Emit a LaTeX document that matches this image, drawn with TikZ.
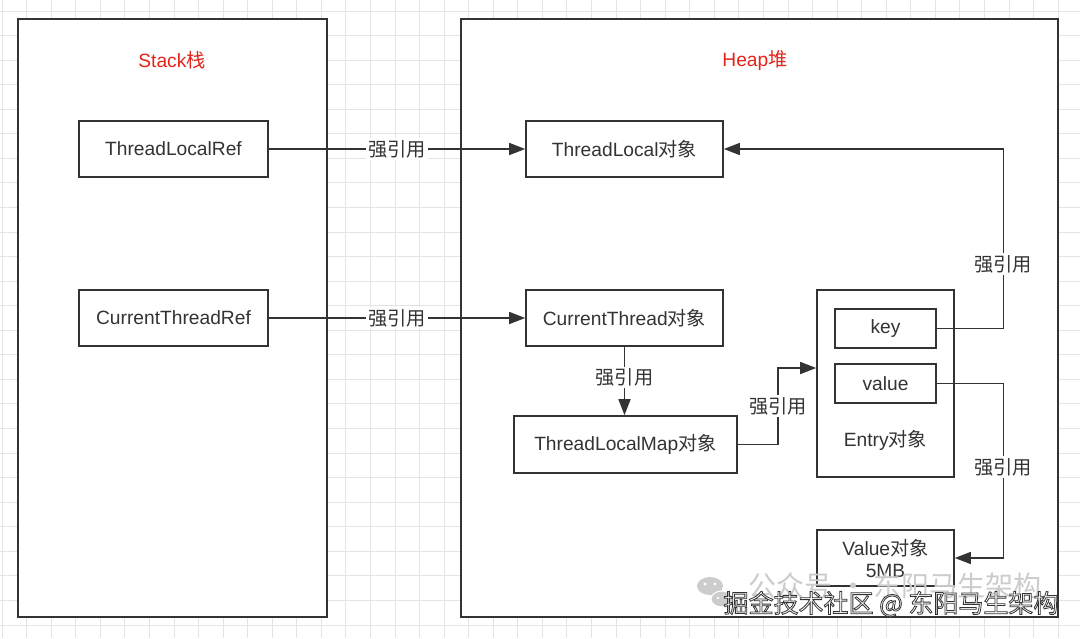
\documentclass[tikz,border=0pt]{standalone}
\usepackage{fontspec}
\setmainfont{Liberation Sans}
\newfontfamily\cjk{Noto Sans CJK SC}
\usetikzlibrary{arrows.meta,calc}
\definecolor{linec}{HTML}{333333}
\definecolor{textc}{HTML}{333333}
\definecolor{gridc}{HTML}{E4E4E4}
\definecolor{titlec}{HTML}{E3241B}
\newcommand\myzh[1]{{\cjk #1}}
\begin{document}
\begin{tikzpicture}[x=1pt,y=-1pt,
  box/.style={draw=linec, line width=1.6pt, fill=white, inner sep=0pt, text=textc, font=\fontsize{19.2}{23}\selectfont},
  conn/.style={draw=linec, line width=1.5pt, -{Triangle[length=16pt,width=12pt]}},
  lbl/.style={fill=white, inner sep=2pt, text=textc, font=\fontsize{19.2}{23}\selectfont},
  titletext/.style={text=titlec, font=\fontsize{19.2}{23}\selectfont},
  plain/.style={inner sep=0pt, text=textc, font=\fontsize{19.2}{23}\selectfont},
  wmark/.style={inner sep=0pt, font=\cjk\fontsize{25}{28}\selectfont},
]
\useasboundingbox (0,0) rectangle (1080,638);
\fill[white] (0,0) rectangle (1080,638);
\foreach \i in {0,...,43} \draw[gridc, line width=1pt] ({2.1+24.56*\i},0) -- ({2.1+24.56*\i},638);
\foreach \j in {0,...,25} \draw[gridc, line width=1pt] (0,{11+24.56*\j}) -- (1080,{11+24.56*\j});

% containers
\node[box, minimum width=309pt, minimum height=598pt] (stack) at (172.5,318) {};
\node[box, minimum width=597pt, minimum height=598pt] (heap) at (759.5,318) {};
\node[titletext] (stackt) at (172,60) {Stack\myzh{栈}};
\node[titletext] (heapt) at (755,60) {Heap\myzh{堆}};

% stack nodes
\node[box, minimum width=189pt, minimum height=56pt] (tlr) at (173.5,149) {ThreadLocalRef};
\node[box, minimum width=189pt, minimum height=56pt] (ctr) at (173.5,318) {CurrentThreadRef};

% heap nodes
\node[box, minimum width=197pt, minimum height=56pt] (tlo) at (624.5,149) {ThreadLocal\myzh{对象}};
\node[box, minimum width=197pt, minimum height=56pt] (cto) at (624.5,318) {CurrentThread\myzh{对象}};
\node[box, minimum width=223pt, minimum height=57pt] (tlm) at (625.5,444.5) {ThreadLocalMap\myzh{对象}};
\node[box, minimum width=137pt, minimum height=187pt] (entry) at (885.5,383.5) {};
\node[box, minimum width=101pt, minimum height=39pt] (key) at (885.5,328.5) {key};
\node[box, minimum width=101pt, minimum height=39pt] (value) at (885.5,383.5) {value};
\node[plain] (entryl) at (885.5,440) {Entry\myzh{对象}};
\node[box, minimum width=137pt, minimum height=56pt, align=center, font=\fontsize{19.2}{22}\selectfont] (val) at (885.5,558) {Value\myzh{对象}\\5MB};

% connectors
\draw[conn] (tlr.east) -- node[lbl]{\myzh{强引用}} (tlo.west);
\draw[conn] (ctr.east) -- node[lbl]{\myzh{强引用}} (cto.west);
\draw[conn] (cto.south) -- node[lbl,pos=0.45]{\myzh{强引用}} (cto.south |- tlm.north);
\draw[conn] (tlm.east) -- ++(40,0) |- node[lbl,pos=0.25]{\myzh{强引用}} ([yshift=15.5pt]entry.west);
\draw[conn] (key.east) -- ++(66.5,0) |- node[lbl,pos=0.18]{\myzh{强引用}} (tlo.east);
\draw[conn] (value.east) -- ++(66.5,0) |- node[lbl,pos=0.24]{\myzh{强引用}} (val.east);

% watermark
\node[wmark, text=gray!40, font=\cjk\fontsize{28}{30}\selectfont] (wm1) at (895,586) {公众号 · 东阳马生架构};
\fill[gray!40] (710,586) ellipse [x radius=13pt, y radius=9pt];
\fill[gray!40, draw=white, line width=1pt] (722,599) ellipse [x radius=11pt, y radius=8pt];
\fill[white] (705,584) circle (1.6pt) (715,584) circle (1.6pt) (718,598) circle (1.3pt) (726,598) circle (1.3pt);
\node[wmark, text=white] (wm2) at (891,604) {\special{pdf:literal 2 Tr 0.8 w 0.2 G}掘金技术社区 @ 东阳马生架构\special{pdf:literal 0 Tr}};
\end{tikzpicture}
\end{document}
